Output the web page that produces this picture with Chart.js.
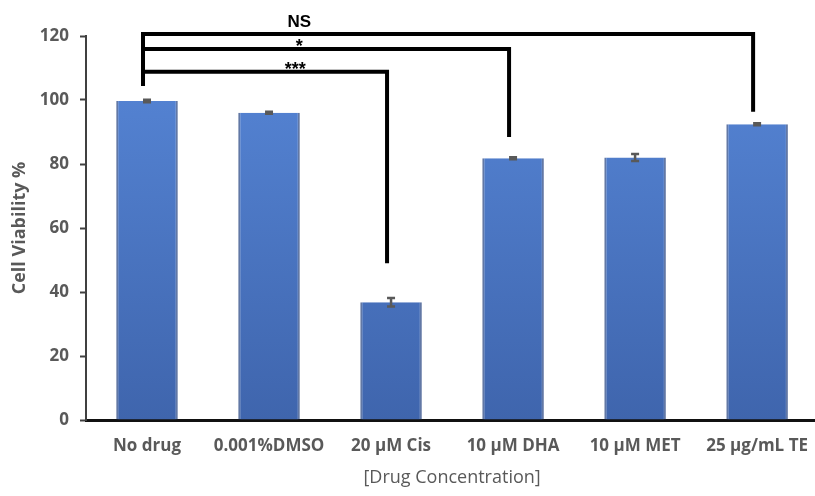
<!DOCTYPE html>
<html>
<head>
<meta charset="utf-8">
<script src="https://cdn.jsdelivr.net/npm/chart.js@4.4.1/dist/chart.umd.min.js"></script>
<style>
  body { margin: 0; background: #fff; overflow: hidden; }
  #wrap { width: 815px; height: 496px; overflow: hidden; }
</style>
</head>
<body>
<div id="wrap"><canvas id="myChart" width="824" height="496"></canvas></div>
<script>
// data
const groups = ['No drug', '0.001%DMSO', '20 µM Cis', '10 µM DHA', '10 µM MET', '25 µg/mL TE'];
const viability = [99.7, 96.0, 36.8, 81.8, 82.0, 92.4];
const errors = [0.4, 0.3, 1.3, 0.3, 1.1, 0.3];
const yTicks = [0, 20, 40, 60, 80, 100, 120];

// significance brackets: from "No drug" to target group
const bracketTo = [5, 3, 2];
const bracketTop = [120.6, 115.9, 108.8];
const bracketLegEnd = [96.3, 88.4, 49];
const bracketStart = 104.4;
const bracketText = ['NS', '*', '***'];

const grey = '#595959';

// error bars + brackets drawn on top of the bars
const extrasPlugin = {
  id: 'extras',
  afterDatasetsDraw(chart) {
    const ctx = chart.ctx;
    const x = chart.scales.x;
    const y = chart.scales.y;
    ctx.save();

    // error bars
    ctx.strokeStyle = grey;
    ctx.lineWidth = 2.5;
    viability.forEach(function(v, i) {
      const px = x.getPixelForValue(i);
      const hi = y.getPixelForValue(v + errors[i]);
      const lo = y.getPixelForValue(v - errors[i]);
      ctx.beginPath();
      ctx.moveTo(px, hi); ctx.lineTo(px, lo);
      ctx.moveTo(px - 4, hi); ctx.lineTo(px + 4, hi);
      ctx.moveTo(px - 4, lo); ctx.lineTo(px + 4, lo);
      ctx.stroke();
    });

    // brackets
    ctx.strokeStyle = '#000';
    ctx.lineWidth = 4;
    ctx.lineJoin = 'miter';
    const x0 = x.getPixelForValue(0) - 4;
    bracketTo.forEach(function(t, k) {
      const xt = x.getPixelForValue(t) - 4;
      const yt = y.getPixelForValue(bracketTop[k]);
      ctx.beginPath();
      ctx.moveTo(x0, y.getPixelForValue(bracketStart));
      ctx.lineTo(x0, yt);
      ctx.lineTo(xt, yt);
      ctx.lineTo(xt, y.getPixelForValue(bracketLegEnd[k]));
      ctx.stroke();

      // label sits a little right of the 2nd category
      const lx = x.getPixelForValue(1.28) - (k === 2 ? 8 : 4);
      ctx.fillStyle = '#000';
      ctx.textAlign = 'center';
      ctx.textBaseline = 'alphabetic';
      if (bracketText[k] === 'NS') {
        ctx.font = 'bold 17px "Liberation Sans", Arial, sans-serif';
        ctx.fillText(bracketText[k], lx, yt - 7);
      } else {
        ctx.font = 'bold 18px "Liberation Sans", Arial, sans-serif';
        ctx.fillText(bracketText[k], lx, yt + 3);
      }
    });
    ctx.restore();
  }
};

function barFill(context) {
  const chart = context.chart;
  const area = chart.chartArea;
  if (!area) return '#4f7fd0';
  const g = chart.ctx.createLinearGradient(0, area.top, 0, area.bottom);
  g.addColorStop(0, '#5787d8');
  g.addColorStop(1, '#3f65ad');
  return g;
}

const chartArea = document.getElementById('myChart').getContext('2d');

const myChart = new Chart(chartArea, {
  type: 'bar',
  data: {
    labels: groups,
    datasets: [{
      data: viability,
      backgroundColor: barFill,
      borderColor: 'rgba(45, 75, 135, 0.75)',
      borderWidth: { left: 2, right: 2, top: 0, bottom: 0 },
      borderSkipped: false,
      barPercentage: 0.505,
      categoryPercentage: 1
    }]
  },
  options: {
    responsive: false,
    animation: false,
    layout: { padding: { top: 36, right: 0, left: 0, bottom: 0 } },
    plugins: {
      legend: { display: false },
      tooltip: { enabled: false }
    },
    scales: {
      x: {
        afterFit: function(scale) { scale.height = 76; },
        grid: { display: false, drawTicks: false },
        border: { display: true, color: '#111', width: 3 },
        ticks: {
          autoSkip: false,
          maxRotation: 0,
          padding: 16,
          color: grey,
          font: { family: '"Open Sans", sans-serif', size: 17, weight: 'bold' }
        },
        title: {
          display: true,
          text: '[Drug Concentration]',
          color: grey,
          padding: { top: 0, bottom: 7 },
          font: { family: '"Open Sans", sans-serif', size: 18 }
        }
      },
      y: {
        min: 0,
        max: 120,
        afterFit: function(scale) { scale.width = 86; },
        afterBuildTicks: function(scale) {
          scale.ticks = yTicks.map(function(v) { return { value: v }; });
        },
        grid: {
          drawOnChartArea: false,
          drawTicks: true,
          tickLength: 6,
          tickColor: '#404040',
          tickWidth: 2
        },
        border: { display: true, color: '#404040', width: 2 },
        ticks: {
          padding: 11,
          color: grey,
          font: { family: '"Open Sans", sans-serif', size: 17, weight: 'bold' }
        },
        title: {
          display: true,
          text: 'Cell Viability %',
          color: grey,
          padding: { top: 9, bottom: 0 },
          font: { family: '"Open Sans", sans-serif', size: 18, weight: 'bold' }
        }
      }
    }
  },
  plugins: [extrasPlugin]
});
</script>
</body>
</html>
